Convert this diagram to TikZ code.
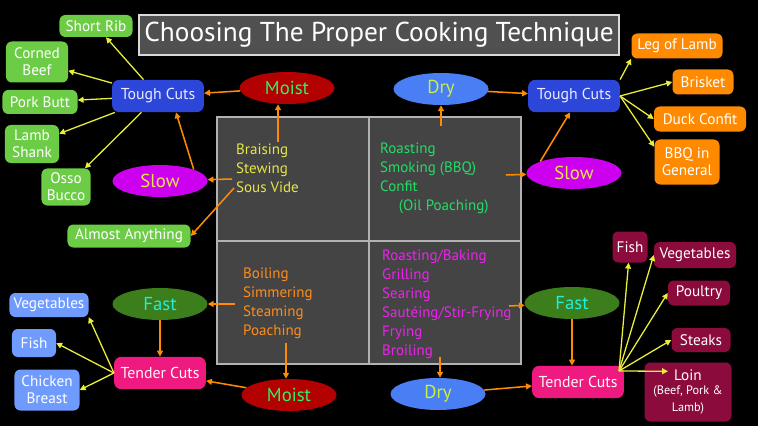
\documentclass[tikz,border=0pt]{standalone}
\usepackage{fontspec}
\setmainfont{PT Sans}
\usetikzlibrary{arrows.meta,calc,shapes.geometric}
\definecolor{titlegray}{HTML}{505050}
\definecolor{cellgray}{HTML}{444444}
\definecolor{toughblue}{HTML}{2B46D9}
\definecolor{tenderpink}{HTML}{EE1A80}
\definecolor{moistred}{HTML}{B30000}
\definecolor{dryblue}{HTML}{4A7EF5}
\definecolor{slowpurple}{HTML}{CC00EE}
\definecolor{fastgreen}{HTML}{3C7D1C}
\definecolor{itemgreen}{HTML}{6CCC45}
\definecolor{itemorange}{HTML}{FF8A00}
\definecolor{itemblue}{HTML}{6F9BFF}
\definecolor{itemmaroon}{HTML}{8A0B3C}
\definecolor{arrorange}{HTML}{FF8C00}
\definecolor{arryellow}{HTML}{E8EE3A}
\definecolor{txtyellow}{HTML}{E6E64A}
\definecolor{txtgreen}{HTML}{22DD66}
\definecolor{txtorange}{HTML}{FF8C1A}
\definecolor{txtmagenta}{HTML}{EE22EE}
\definecolor{moisttxt}{HTML}{33EE66}
\definecolor{drytxt}{HTML}{C8F040}
\definecolor{fasttxt}{HTML}{22EEDD}
\begin{document}
\begin{tikzpicture}[x=0.03cm,y=-0.03cm,
  cut/.style={rounded corners=6pt,inner sep=1pt,minimum width=2.75cm,minimum height=0.97cm,font=\fontsize{13.5}{15}\selectfont},
  item/.style={fill=#1,rounded corners=5pt,inner sep=1pt,text=white,align=center,font=\fontsize{13}{14.5}\selectfont},
  oval/.style={ellipse,minimum width=2.85cm,minimum height=0.96cm,inner sep=0pt,font=\fontsize{16}{18}\selectfont},
  cell/.style={anchor=north west,inner sep=0pt,align=left,font=\fontsize{12.8}{16.2}\selectfont},
  oarr/.style={draw=arrorange,line width=1.3pt,-{Triangle[length=5pt,width=5pt]}},
  yarr/.style={draw=arryellow,line width=1.1pt,-{Triangle[length=5pt,width=5pt]}}]
\fill[black] (0,0) rectangle (758,426);
\useasboundingbox (0,0) rectangle (758,426);
% title
\node[draw=white!85!black,line width=1.8pt,fill=titlegray,text=white,minimum width=14.4cm,minimum height=1.2cm,inner sep=0pt,font=\fontsize{23.3}{28}\selectfont] (title) at (379,35) {Choosing The Proper Cooking Technique};
% the four cells
\draw[draw=white!70!black,line width=1pt,fill=cellgray] (217,117) rectangle (521,364);
\draw[draw=white!70!black,line width=1pt] (369,117) -- (369,364);
\draw[draw=white!70!black,line width=1pt] (217,241) -- (521,241);
\node[cell,text=txtyellow] (slowmoist) at (236,144) {Braising\\Stewing\\Sous Vide};
\node[cell,text=txtgreen] (slowdry) at (380,143) {Roasting\\Smoking (BBQ)\\Confit\\\hspace*{16pt}(Oil Poaching)};
\node[cell,text=txtorange] (fastmoist) at (243,268) {Boiling\\Simmering\\Steaming\\Poaching};
\node[cell,text=txtmagenta] (fastdry) at (382,250) {Roasting/Baking\\Grilling\\Searing\\Sautéing/Stir-Frying\\Frying\\Broiling};
\coordinate (tlup) at (278,142);
\coordinate (tlmid) at (232,179);
\coordinate (tlsv) at (234,188);
\coordinate (trup) at (441,126);
\coordinate (trmid) at (506,175);
\coordinate (blmid) at (235,304);
\coordinate (bldn) at (286,343);
\coordinate (brmid) at (509,306);
\coordinate (brdn) at (440,357);
% ovals
\node[oval,fill=moistred,text=moisttxt] (moistT) at (287,88) {Moist};
\node[oval,fill=dryblue,text=drytxt] (dryT) at (441,89) {Dry};
\node[oval,fill=slowpurple,text=txtyellow] (slowL) at (160,181) {Slow};
\node[oval,fill=slowpurple,text=txtyellow] (slowR) at (574,173) {Slow};
\node[oval,fill=fastgreen,text=fasttxt] (fastL) at (160,304) {Fast};
\node[oval,fill=fastgreen,text=fasttxt] (fastR) at (572,303) {Fast};
\node[oval,fill=moistred,text=moisttxt] (moistB) at (289,395) {Moist};
\node[oval,fill=dryblue,text=drytxt] (dryB) at (438,394) {Dry};
% cuts
\node[cut,fill=toughblue,text=blue!8!white] (toughL) at (158,96) {Tough Cuts};
\node[cut,fill=toughblue,text=blue!8!white] (toughR) at (574,96) {Tough Cuts};
\node[cut,fill=tenderpink,text=white] (tenderL) at (160,373) {{\color{white!85!pink}Tender} Cuts};
\node[cut,fill=tenderpink,text=white] (tenderR) at (578,382) {{\color{white!85!pink}Tender} Cuts};
% tough cuts, slow and moist
\node[item=itemgreen,minimum width=2.19cm,minimum height=0.66cm] (shortrib) at (96,26) {Short Rib};
\node[item=itemgreen,minimum width=1.86cm,minimum height=1.23cm] (cornedbeef) at (37,62) {Corned\\Beef};
\node[item=itemgreen,minimum width=2.25cm,minimum height=0.72cm] (porkbutt) at (40,102) {Pork Butt};
\node[item=itemgreen,minimum width=1.62cm,minimum height=1.14cm] (lambshank) at (32,144) {Lamb\\Shank};
\node[item=itemgreen,minimum width=1.47cm,minimum height=1.11cm] (ossobucco) at (66,187) {Osso\\Bucco};
\node[item=itemgreen,minimum width=3.69cm,minimum height=0.69cm] (almost) at (129,236) {Almost Anything};
% tough cuts, slow and dry
\node[item=itemorange,minimum width=2.73cm,minimum height=0.75cm] (legoflamb) at (677,46) {Leg of Lamb};
\node[item=itemorange,minimum width=1.83cm,minimum height=0.75cm] (brisket) at (703,82) {Brisket};
\node[item=itemorange,minimum width=2.76cm,minimum height=0.75cm] (duckconfit) at (700,119) {Duck Confit};
\node[item=itemorange,minimum width=1.95cm,minimum height=1.35cm] (bbq) at (687,162) {BBQ in\\General};
% tender cuts, fast and moist
\node[item=itemblue,minimum width=2.37cm,minimum height=0.72cm] (vegL) at (49,305) {Vegetables};
\node[item=itemblue,minimum width=1.32cm,minimum height=0.84cm] (fishL) at (34,343) {Fish};
\node[item=itemblue,minimum width=1.95cm,minimum height=1.23cm] (chicken) at (47,390) {Chicken\\Breast};
% tender cuts, fast and dry
\node[item=itemmaroon,minimum width=1.05cm,minimum height=0.93cm] (fishR) at (630,247) {Fish};
\node[item=itemmaroon,minimum width=2.46cm,minimum height=0.78cm] (vegR) at (695,255) {Vegetables};
\node[item=itemmaroon,minimum width=1.86cm,minimum height=0.75cm] (poultry) at (699,293) {Poultry};
\node[item=itemmaroon,minimum width=1.77cm,minimum height=0.72cm] (steaks) at (701,340) {Steaks};
\node[item=itemmaroon,minimum width=2.61cm,minimum height=1.77cm] (loin) at (688,392) {Loin\\[-2pt]\fontsize{10.5}{12.5}\selectfont(Beef, Pork \&\\\fontsize{10.5}{12.5}\selectfont Lamb)};
\coordinate (hub) at (619,371);
% orange arrows
\draw[oarr] (tlup) -- (tlup |- moistT.south);
\draw[oarr] (moistT) -- (toughL);
\draw[oarr] (tlmid) -- (slowL);
\draw[oarr] (slowL.north east) -- ($(toughL.south)+(18,0)$);
\draw[oarr] (tlsv) -- (almost.east);
\draw[oarr] (trup) -- (trup |- dryT.south);
\draw[oarr] (dryT) -- (toughR);
\draw[oarr] (trmid) -- (slowR);
\draw[oarr] (slowR.north west) -- ($(toughR.south)+(-4,0)$);
\draw[oarr] (blmid) -- (fastL);
\draw[oarr] (fastL.south) -- (fastL.south |- tenderL.north);
\draw[oarr] (bldn) -- (bldn |- moistB.north);
\draw[oarr] (moistB) -- (tenderL);
\draw[oarr] (brdn) -- (brdn |- dryB.north);
\draw[oarr] (dryB) -- (tenderR);
\draw[oarr] (brmid) -- (fastR);
\draw[oarr] (fastR.south) -- (fastR.south |- tenderR.north);
% yellow arrows
\draw[yarr] (toughL) -- (shortrib);
\draw[yarr] (toughL) -- (cornedbeef);
\draw[yarr] (toughL) -- (porkbutt);
\draw[yarr] (toughL) -- (lambshank);
\draw[yarr] (toughL) -- (ossobucco);
\draw[yarr] (toughR.north east) -- (legoflamb.south west);
\draw[yarr] (toughR.east) -- (brisket.west);
\draw[yarr] (toughR.east) -- (duckconfit.west);
\draw[yarr] (toughR.east) -- (bbq.155);
\draw[yarr] (tenderL.west) -- (vegL.south east);
\draw[yarr] (tenderL.west) -- (fishL.east);
\draw[yarr] (tenderL.west) -- (chicken.east);
\draw[yarr] (hub) -- (fishR);
\draw[yarr] (hub) -- (vegR.west);
\draw[yarr] (hub) -- (poultry.west);
\draw[yarr] (hub) -- (steaks.west);
\draw[yarr] (hub) -- ($(loin.north)+(-20,9)$);
\end{tikzpicture}
\end{document}
